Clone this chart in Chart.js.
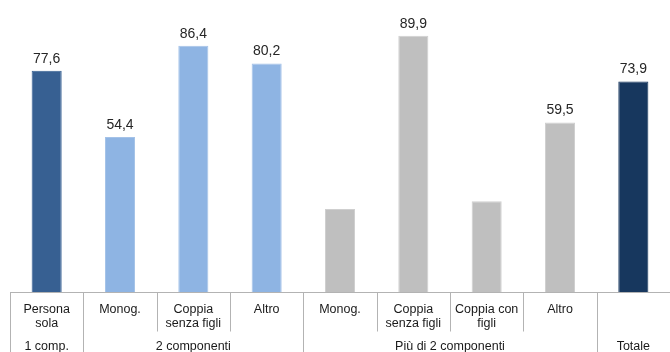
<!DOCTYPE html>
<html>
<head>
<meta charset="utf-8">
<script src="https://cdn.jsdelivr.net/npm/chart.js@4/dist/chart.umd.min.js"></script>
<style>
  html, body { margin: 0; padding: 0; background: #fff; }
  #wrap { width: 670px; height: 352px; }
</style>
</head>
<body>
<div id="wrap"><canvas id="c" width="670" height="352"></canvas></div>
<script>
// Household types (multi-line labels)
const categories = [
  ['Persona', 'sola'],
  ['Monog.'],
  ['Coppia', 'senza figli'],
  ['Altro'],
  ['Monog.'],
  ['Coppia', 'senza figli'],
  ['Coppia con', 'figli'],
  ['Altro'],
  ['']
];
// Household size groups and how many categories each spans
const groupLabels = ['1 comp.', '2 componenti', 'Più di 2 componenti', 'Totale'];
const groupSpans = [1, 3, 4, 1];

// Percent values
const values = [77.6, 54.4, 86.4, 80.2, 29.1, 89.9, 31.8, 59.5, 73.9];
// Value labels printed above the bars (null = no label)
const valueLabels = ['77,6', '54,4', '86,4', '80,2', null, '89,9', null, '59,5', '73,9'];

const barColors = ['#376092', '#8EB4E3', '#8EB4E3', '#8EB4E3', '#BFBFBF', '#BFBFBF', '#BFBFBF', '#BFBFBF', '#17375E'];
const barBorders = ['#376092', '#A4C2E8', '#A4C2E8', '#A4C2E8', '#CFCFCF', '#CFCFCF', '#CFCFCF', '#CFCFCF', '#17375E'];

const FONT = '"Liberation Sans", Arial, sans-serif';
const LINE = '#B3B3B3';

// Draws value labels above bars
const valueLabelPlugin = {
  id: 'valueLabels',
  afterDatasetsDraw(chart) {
    const ctx = chart.ctx;
    const meta = chart.getDatasetMeta(0);
    ctx.save();
    ctx.font = '14px ' + FONT;
    ctx.fillStyle = '#262626';
    ctx.textAlign = 'center';
    ctx.textBaseline = 'alphabetic';
    meta.data.forEach((bar, i) => {
      const t = valueLabels[i];
      if (t == null) return;
      ctx.fillText(t, bar.x, bar.y - 8);
    });
    ctx.restore();
  }
};

// Draws the category axis with grouped labels and separators
const groupedAxisPlugin = {
  id: 'groupedAxis',
  afterDraw(chart) {
    const ctx = chart.ctx;
    const x = chart.scales.x;
    const y = chart.scales.y;
    const y0 = Math.round(y.getPixelForValue(0)) + 0.5;
    const H = chart.height;
    const step = x.getPixelForValue(1) - x.getPixelForValue(0);
    const edge = i => x.getPixelForValue(i) - step / 2;

    ctx.save();
    ctx.strokeStyle = LINE;
    ctx.lineWidth = 1;

    // baseline
    ctx.beginPath();
    ctx.moveTo(chart.chartArea.left, y0);
    ctx.lineTo(chart.width, y0);
    ctx.stroke();

    // group boundaries
    const bounds = new Set([0]);
    let acc = 0;
    groupSpans.forEach(s => { acc += s; bounds.add(acc); });

    for (let i = 0; i < categories.length; i++) {
      const px = Math.round(edge(i)) + 0.5;
      const bottom = bounds.has(i) ? H : y0 + 39;
      ctx.beginPath();
      ctx.moveTo(px, y0);
      ctx.lineTo(px, bottom);
      ctx.stroke();
    }

    // category labels
    ctx.fillStyle = '#1a1a1a';
    ctx.textAlign = 'center';
    ctx.textBaseline = 'middle';
    ctx.font = '12.5px ' + FONT;
    categories.forEach((lines, i) => {
      const cx = x.getPixelForValue(i);
      lines.forEach((ln, k) => ctx.fillText(ln, cx, y0 + 17 + k * 14));
    });

    // group labels
    let start = 0;
    groupLabels.forEach((g, gi) => {
      const end = start + groupSpans[gi];
      const cx = (edge(start) + edge(end)) / 2;
      ctx.fillText(g, cx, y0 + 54);
      start = end;
    });
    ctx.restore();
  }
};

new Chart(document.getElementById('c'), {
  type: 'bar',
  data: {
    labels: categories.map(c => c.join(' ')),
    datasets: [{
      data: values,
      backgroundColor: barColors,
      borderColor: barBorders,
      borderWidth: 1,
      categoryPercentage: 1,
      barPercentage: 0.41
    }]
  },
  options: {
    responsive: false,
    animation: false,
    layout: { padding: { left: 10, right: -3, top: 7, bottom: 60 } },
    plugins: { legend: { display: false }, tooltip: { enabled: false } },
    scales: {
      x: { display: false },
      y: { display: false, min: 0, max: 100 }
    }
  },
  plugins: [valueLabelPlugin, groupedAxisPlugin]
});
</script>
</body>
</html>
